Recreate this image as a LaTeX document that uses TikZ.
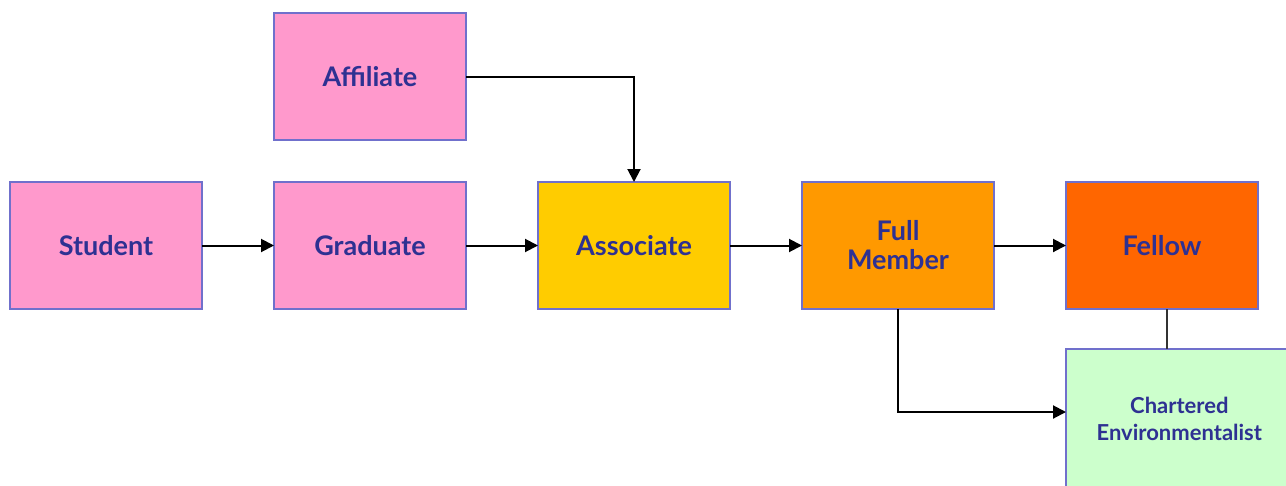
\documentclass[tikz,border=0pt]{standalone}
\usepackage{fontspec}
\setmainfont{Lato}
\usepackage{xcolor}
\usetikzlibrary{arrows.meta,positioning,calc}

\definecolor{boxline}{HTML}{7070CC}
\definecolor{boxtext}{HTML}{2E3192}
\definecolor{pinkfill}{HTML}{FF99CC}
\definecolor{yellowfill}{HTML}{FFCC00}
\definecolor{orangefill}{HTML}{FF9900}
\definecolor{darkorangefill}{HTML}{FF6600}
\definecolor{greenfill}{HTML}{CCFFCC}

\begin{document}
\begin{tikzpicture}[
    node distance=72pt,
    grade/.style={rectangle, draw=boxline, line width=1.5pt, outer sep=0pt, minimum width=192pt, minimum height=127pt,
        text width=185pt, align=center, text=boxtext, font=\fontsize{27}{29}\selectfont\bfseries},
    line/.style={draw, line width=2pt, -{Triangle[length=13pt,width=13pt]}}
]
\useasboundingbox (0,0) rectangle (1286pt,-485pt);
\begin{scope}
\clip (0,0) rectangle (1286pt,-485pt);
\node [grade, fill=pinkfill] (student) at (106pt,-245.5pt) {Student};
\node [grade, fill=pinkfill, right=of student] (graduate) {Graduate};
\node [grade, fill=yellowfill, right=of graduate] (associate) {Associate};
\node [grade, fill=orangefill, right=of associate] (member) {Full\\Member};
\node [grade, fill=darkorangefill, right=of member] (fellow) {Fellow};
\node [grade, fill=pinkfill, above=42pt of graduate] (affiliate) {Affiliate};
\node [grade, fill=greenfill, minimum width=226pt, minimum height=140pt, text width=220pt,
    font=\fontsize{22}{27}\selectfont\bfseries,
    below right=40pt and 0pt of fellow.south west] (chartered) {Chartered\\Environmentalist};

\path [line] (student) -- (graduate);
\path [line] (graduate) -- (associate);
\path [line] (associate) -- (member);
\path [line] (member) -- (fellow);
\path [line] (affiliate.east) -| (associate.north);
\path [line] (member.south) |- ([yshift=7pt]chartered.west);
\draw [line width=2pt, draw=black!80] ([xshift=5pt]fellow.south) -- ([xshift=5pt]fellow.south |- chartered.north);
\end{scope}
\end{tikzpicture}
\end{document}
